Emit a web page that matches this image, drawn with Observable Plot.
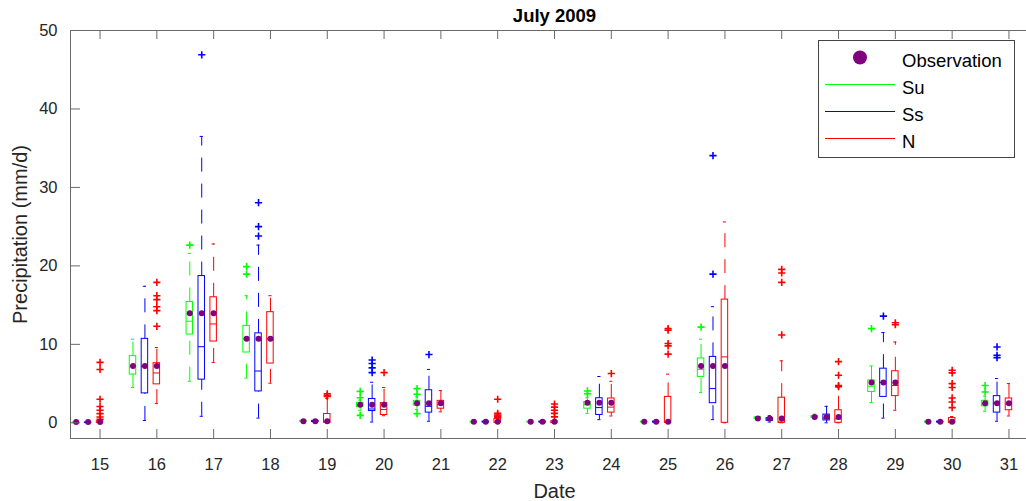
<!DOCTYPE html>
<html>
<head>
<meta charset="utf-8">
<script src="https://cdn.jsdelivr.net/npm/d3@7"></script>
<script src="https://cdn.jsdelivr.net/npm/@observablehq/plot@0.6"></script>
<style>
  body { margin: 0; background: #fff; }
  #chart { width: 1026px; height: 501px; overflow: hidden; }
</style>
</head>
<body>
<div id="chart"></div>
<script>
// ---------------- data ----------------
const days = [15, 16, 17, 18, 19, 20, 21, 22, 23, 24, 25, 26, 27, 28, 29, 30, 31];
const observation = [0.1, 7.25, 13.95, 10.7, 0.2, 2.3, 2.5, 0.15, 0.15, 2.55, 0.15, 7.25, 0.55, 0.75, 5.15, 0.15, 2.5];
const modelNames = ["Su", "Ss", "N"];
const yTicks = [0, 10, 20, 30, 40, 50];
const legendLabels = ["Observation", "Su", "Ss", "N"];

// [lower whisker, Q1, median, Q3, upper whisker] per day
const suStats = [
  [0, 0, 0, 0.05, 0.1], [4.5, 6.15, 7.2, 8.5, 10.65], [5.3, 11.25, 12.95, 15.4, 21.6], [5.7, 8.96, 10.7, 12.36, 16.2],
  [0.1, 0.15, 0.2, 0.25, 0.3], [1.6, 2.0, 2.3, 2.55, 2.9], [1.7, 2.2, 2.5, 2.8, 3.3], [0, 0.05, 0.1, 0.15, 0.2],
  [0, 0.05, 0.1, 0.15, 0.2], [1.2, 1.8, 2.3, 2.66, 3.2], [0, 0.05, 0.1, 0.15, 0.2], [3.85, 5.85, 6.8, 8.2, 10.66],
  [0.4, 0.5, 0.6, 0.7, 0.8], [0.5, 0.65, 0.75, 0.85, 1.1], [2.58, 3.93, 4.66, 5.4, 7.25], [0, 0.05, 0.1, 0.15, 0.2],
  [1.47, 2.1, 2.4, 2.8, 3.4]
];
const suOutliers = [
  [], [], [22.65], [19.9, 18.95], [], [4.0, 3.2, 0.95], [4.36, 3.64, 1.17], [], [], [4.06, 3.7], [], [12.2],
  [], [], [12.0], [], [4.75, 3.93]
];
const ssStats = [
  [0, 0, 0.02, 0.05, 0.1], [0.3, 3.75, 7.2, 10.7, 17.4], [0.83, 5.5, 9.7, 18.7, 36.5], [0.6, 4.0, 6.6, 11.4, 22.65],
  [0.05, 0.1, 0.15, 0.25, 0.3], [0.1, 1.5, 1.76, 3.04, 5.17], [0.2, 1.3, 2.1, 4.15, 6.8], [0, 0.05, 0.1, 0.15, 0.2],
  [0, 0.05, 0.1, 0.15, 0.2], [0.4, 1.0, 1.94, 3.13, 5.9], [0, 0.05, 0.1, 0.15, 0.2], [0.4, 2.5, 4.36, 8.4, 14.8],
  [0.1, 0.25, 0.45, 0.6, 0.9], [0, 0.3, 0.6, 1.05, 2.1], [0.6, 3.3, 5.15, 6.9, 11.5], [0, 0.05, 0.1, 0.15, 0.2],
  [0.2, 1.3, 2.5, 3.4, 5.64]
];
const ssOutliers = [
  [], [], [46.9], [28.05, 25.0, 23.8], [], [8.0, 7.55, 7.0, 6.4], [8.7], [], [], [], [], [34.05, 18.95],
  [], [], [13.6], [], [9.67, 8.6, 8.3]
];
const nStats = [
  [0, 0, 0.05, 0.2, 0.3], [2.45, 4.9, 6.35, 7.6, 9.6], [7.7, 10.36, 12.6, 16.0, 22.8], [5.04, 7.55, 10.7, 14.1, 16.2],
  [0, 0, 0.2, 1.12, 3.1], [0.9, 1.0, 1.7, 2.5, 4.5], [1.4, 1.8, 2.3, 2.8, 4.1], [0, 0, 0.05, 0.5, 0.6],
  [0, 0, 0.02, 0.2, 0.3], [0.87, 1.3, 2.0, 3.1, 5.3], [0, 0, 0.05, 3.3, 6.2], [0, 0, 8.4, 15.7, 25.6],
  [0, 0, 0.1, 3.2, 7.9], [0, 0, 0.5, 1.6, 4.5], [1.6, 3.4, 4.75, 6.57, 10.3], [0, 0, 0.05, 0.6, 0.8],
  [0.87, 1.6, 2.4, 3.1, 5.0]
];
const nOutliers = [
  [7.7, 6.8, 3.0, 2.07, 1.6, 1.17, 0.74, 0.45], [17.9, 16.2, 15.7, 14.8, 14.3, 12.3], [], [],
  [3.35, 3.5, 3.7], [6.4], [], [3.0, 1.2, 1.0, 0.85, 0.7], [2.4, 2.0, 1.6, 1.2, 0.75], [6.28],
  [12.0, 11.8, 10.1, 9.8, 8.75], [], [19.55, 19.1, 17.9, 11.2], [7.8, 6.06, 4.75, 4.6],
  [12.75, 12.5], [6.7, 6.36, 5.0, 4.5, 3.17, 2.66, 1.94], []
];

// ---------------- build tables ----------------
const modelColors = ["#00ff00", "#0000ff", "#ff0000"];
const obsColor = "#800080";
const offsets = [-0.42, -0.21, 0];
const statsByModel = [suStats, ssStats, nStats];
const outByModel = [suOutliers, ssOutliers, nOutliers];
const boxes = [], outliers = [], obsPts = [];
modelNames.forEach((m, k) => {
  days.forEach((d, i) => {
    const [lo, q1, med, q3, hi] = statsByModel[k][i];
    const x = d + offsets[k];
    boxes.push({model: m, x, lo, q1, med, q3, hi});
    outByModel[k][i].forEach(v => outliers.push({model: m, x, v}));
    obsPts.push({x, v: observation[i]});
  });
});

const plusSymbol = {
  draw(context, size) {
    const r = Math.sqrt(size / Math.PI);
    context.moveTo(-r, 0); context.lineTo(r, 0);
    context.moveTo(0, -r); context.lineTo(0, r);
  }
};

const W = 1026, H = 501, mL = 70, mR = -12, mT = 30, mB = 63;
const plotW = W - mL - mR, plotH = H - mT - mB;
const hw = 0.057, cw = 0.028;
const axisColor = "#6a6a6a";
const dash = "14,12";
const font = "'Liberation Sans', Arial, Helvetica, sans-serif";

const chart = Plot.plot({
  width: W, height: H,
  marginLeft: mL, marginRight: mR, marginTop: mT, marginBottom: mB,
  x: {domain: [14.48, 31.52]},
  y: {domain: [-2, 50]},
  color: {domain: modelNames, range: modelColors},
  style: {fontFamily: font, fontSize: "16.5px", color: "#262626", background: "white"},
  marks: [
    Plot.ruleX(boxes, {x: "x", y1: "q3", y2: "hi", stroke: "model", strokeDasharray: dash}),
    Plot.ruleX(boxes, {x: "x", y1: "lo", y2: "q1", stroke: "model", strokeDasharray: dash}),
    Plot.ruleY(boxes, {y: "hi", x1: d => d.x - cw, x2: d => d.x + cw, stroke: "model"}),
    Plot.ruleY(boxes, {y: "lo", x1: d => d.x - cw, x2: d => d.x + cw, stroke: "model"}),
    Plot.rect(boxes, {x1: d => d.x - hw, x2: d => d.x + hw, y1: "q1", y2: "q3", stroke: "model", fill: "none"}),
    Plot.ruleY(boxes, {y: "med", x1: d => d.x - hw, x2: d => d.x + hw, stroke: "model"}),
    Plot.dot(outliers, {x: "x", y: "v", stroke: "model", symbol: plusSymbol, r: 3.6, strokeWidth: 1.6}),
    Plot.dot(obsPts, {x: "x", y: "v", fill: obsColor, r: 3}),
    Plot.frame({stroke: axisColor}),
    Plot.tickX(days, {x: d => d, insetTop: plotH - 9, stroke: axisColor}),
    Plot.tickX(days, {x: d => d, insetBottom: plotH - 9, stroke: axisColor}),
    Plot.tickY(yTicks, {y: d => d, insetRight: plotW - 10, stroke: axisColor}),
    Plot.axisX(days, {tickSize: 0, tickPadding: 20, label: null, tickFormat: d => String(d)}),
    Plot.axisY(yTicks, {tickSize: 0, tickPadding: 13, label: null}),
    Plot.text(["Precipitation (mm/d)"], {text: d => d, frameAnchor: "left", textAnchor: "middle", dx: -50, rotate: -90, fontSize: 20, fill: "#262626"}),
    Plot.text(["Date"], {text: d => d, frameAnchor: "bottom", dy: 59, fontSize: 20, fill: "#262626"}),
    Plot.text(["July 2009"], {text: d => d, frameAnchor: "top", dy: -22, fontSize: 18.5, fontWeight: "bold", fill: "#000"})
  ]
});
document.getElementById("chart").appendChild(chart);

// ---------------- legend (inside the axes, upper right) ----------------
const svg = d3.select(chart);
const lg = svg.append("g").attr("font-family", font).attr("font-size", 18.5)
  .attr("fill", "#000").attr("text-anchor", "start");
lg.append("rect").attr("x", 818.5).attr("y", 40.5).attr("width", 196).attr("height", 117)
  .attr("fill", "white").attr("stroke", "#444").attr("stroke-width", 1);
const rowY = [57.5, 84.5, 111.5, 138.5];
legendLabels.forEach((lab, i) => {
  const y = rowY[i];
  if (i === 0) {
    lg.append("circle").attr("cx", 860).attr("cy", y).attr("r", 7).attr("fill", obsColor);
  } else {
    lg.append("line").attr("x1", 825).attr("x2", 895).attr("y1", y).attr("y2", y)
      .attr("stroke", modelColors[i - 1]).attr("stroke-width", 1.2);
  }
  lg.append("text").attr("x", 902).attr("y", y + 9.5).attr("text-anchor", "start").text(lab);
});
</script>
</body>
</html>
